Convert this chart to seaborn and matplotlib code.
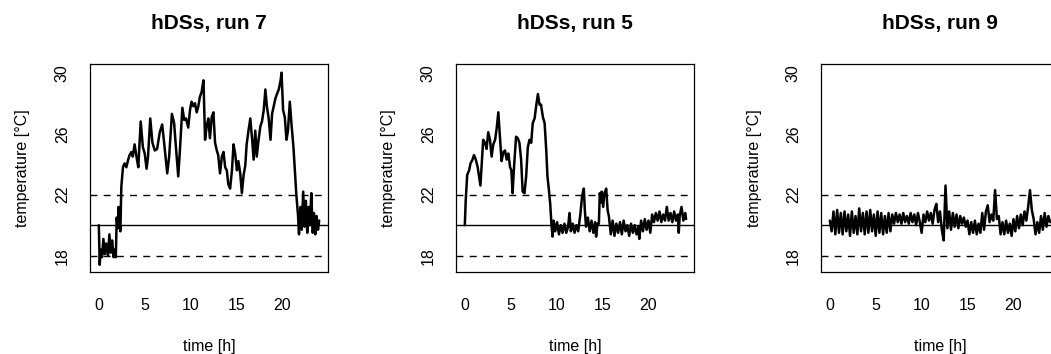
import numpy as np
import pandas as pd
import seaborn as sns
import matplotlib
matplotlib.use("Agg")
import matplotlib.pyplot as plt

# run 7
run7_hours = [0.0, 0.05, 0.1, 0.2, 0.35, 0.5, 0.65, 0.8, 1.0, 1.15,
              1.3, 1.45, 1.6, 1.75, 1.85, 1.95, 2.05, 2.15, 2.25, 2.35,
              2.45, 2.63, 2.8, 3.0, 3.2, 3.35, 3.55, 3.7, 3.9, 4.1,
              4.3, 4.56, 4.8, 5.0, 5.2, 5.36, 5.6, 5.84, 6.1, 6.35,
              6.64, 6.9, 7.08, 7.3, 7.45, 7.66, 7.96, 8.2, 8.4, 8.65,
              8.83, 9.1, 9.3, 9.5, 9.74, 9.93, 10.1, 10.3, 10.47, 10.66,
              10.84, 11.0, 11.2, 11.4, 11.57, 11.75, 11.93, 12.1, 12.3, 12.48,
              12.66, 12.85, 13.0, 13.2, 13.4, 13.58, 13.76, 13.94, 14.1, 14.3,
              14.5, 14.67, 14.85, 15.04, 15.2, 15.4, 15.58, 15.77, 15.95, 16.1,
              16.3, 16.5, 16.7, 16.86, 17.04, 17.2, 17.4, 17.6, 17.77, 17.96,
              18.14, 18.3, 18.5, 18.7, 18.87, 19.05, 19.23, 19.4, 19.6, 19.8,
              19.9, 20.07, 20.25, 20.44, 20.6, 20.8, 21.0, 21.2, 21.35, 21.5,
              21.7, 21.8, 21.97, 22.1, 22.26, 22.4, 22.55, 22.7, 22.85, 23.0,
              23.14, 23.3, 23.43, 23.58, 23.72, 23.87, 24.0]
run7_temp = [20.0, 18.6, 17.4, 18.4, 17.9, 19.1, 18.1, 18.8, 18.0, 19.4,
             18.2, 19.0, 17.9, 18.4, 17.9, 20.5, 19.8, 21.2, 20.3, 19.6,
             22.5, 23.8, 24.05, 23.8, 24.3, 24.6, 24.8, 24.5, 25.3, 24.5,
             23.8, 26.8, 25.1, 24.7, 23.7, 24.5, 27.0, 25.4, 24.9, 25.0,
             26.1, 26.6, 25.6, 24.3, 23.4, 24.5, 27.3, 26.7, 25.1, 23.2,
             24.9, 27.7, 26.9, 27.0, 26.4, 27.55, 28.1, 27.8, 28.0, 27.4,
             27.8, 28.4, 28.75, 29.5, 25.6, 26.5, 27.0, 25.7, 27.1, 27.4,
             25.4, 24.9, 24.6, 23.4, 24.5, 24.8, 23.8, 23.6, 22.7, 22.4,
             23.6, 25.3, 24.7, 23.6, 24.2, 23.4, 22.1, 23.3, 23.9, 25.3,
             26.2, 27.0, 25.6, 24.3, 26.2, 24.5, 25.6, 26.5, 26.8, 27.55,
             28.9, 27.8, 27.0, 25.6, 27.3, 27.8, 28.3, 28.6, 28.9, 29.5,
             30.0, 27.55, 27.1, 25.6, 26.2, 28.1, 26.5, 25.1, 23.6, 22.1,
             20.6, 19.4, 21.2, 19.7, 22.2, 19.9, 21.6, 19.5, 21.2, 20.0,
             22.1, 19.5, 20.8, 19.4, 20.6, 19.7, 20.3]

# run 5
run5_hours = [0.0, 0.1, 0.26, 0.47, 0.62, 0.84, 1.0, 1.2, 1.4, 1.57,
              1.7, 1.82, 2.0, 2.2, 2.37, 2.55, 2.74, 2.92, 3.1, 3.3,
              3.47, 3.65, 3.83, 4.0, 4.2, 4.38, 4.56, 4.74, 4.93, 5.07,
              5.2, 5.36, 5.58, 5.77, 5.95, 6.13, 6.3, 6.5, 6.68, 6.86,
              7.04, 7.23, 7.4, 7.6, 7.77, 7.96, 8.14, 8.3, 8.5, 8.69,
              8.87, 9.0, 9.16, 9.3, 9.45, 9.56, 9.67, 9.85, 10.05, 10.25,
              10.45, 10.65, 10.85, 11.05, 11.25, 11.4, 11.55, 11.75, 11.95, 12.15,
              12.35, 12.5, 12.6, 12.77, 12.96, 13.07, 13.2, 13.4, 13.6, 13.8,
              14.0, 14.2, 14.3, 14.45, 14.6, 14.7, 14.85, 14.9, 15.07, 15.2,
              15.4, 15.55, 15.7, 15.9, 16.1, 16.3, 16.5, 16.7, 16.9, 17.1,
              17.3, 17.5, 17.7, 17.9, 18.1, 18.3, 18.5, 18.7, 18.9, 19.0,
              19.2, 19.4, 19.6, 19.8, 20.0, 20.2, 20.4, 20.6, 20.8, 21.0,
              21.2, 21.4, 21.6, 21.8, 22.0, 22.2, 22.4, 22.6, 22.8, 23.0,
              23.2, 23.3, 23.4, 23.6, 23.8, 24.0, 24.1]
run5_temp = [20.0, 21.65, 23.3, 23.6, 24.05, 24.3, 24.6, 24.3, 23.8, 23.1,
             22.6, 23.8, 25.6, 25.4, 25.0, 26.1, 25.6, 24.5, 25.3, 25.6,
             26.35, 27.4, 25.8, 24.2, 24.8, 24.9, 24.3, 24.7, 23.8, 23.6,
             22.1, 23.8, 25.8, 25.7, 25.4, 24.3, 22.2, 22.1, 23.2, 25.1,
             25.6, 25.4, 26.7, 27.0, 27.8, 28.6, 27.9, 27.9, 27.1, 26.7,
             24.9, 23.2, 22.3, 21.4, 19.9, 19.25, 20.3, 19.6, 20.2, 19.4,
             20.0, 19.5, 20.1, 19.5, 19.9, 20.8, 19.6, 20.1, 19.5, 20.0,
             19.6, 20.3, 20.8, 21.9, 22.4, 21.0, 19.9, 20.5, 19.6, 20.3,
             19.5, 20.2, 19.25, 20.1, 20.1, 22.1, 21.5, 22.2, 21.2, 22.1,
             22.4, 21.0, 20.55, 19.4, 20.3, 19.3, 20.1, 19.5, 20.2, 19.4,
             20.3, 19.6, 20.0, 19.3, 20.1, 19.5, 20.0, 19.4, 19.9, 19.1,
             20.3, 19.6, 20.4, 19.7, 20.3, 19.5, 20.7, 20.2, 20.8, 20.3,
             20.9, 20.2, 20.7, 20.3, 21.2, 20.3, 20.8, 20.2, 20.9, 20.3,
             20.7, 19.5, 20.6, 21.2, 20.3, 20.8, 20.4]

# run 9, one reading every 0.2 h
run9_hours = np.round(np.arange(0, 24.01, 0.2), 1)
run9_temp = [20.3, 19.6, 20.9, 19.4, 21.0, 19.5, 20.8, 19.4, 20.9, 19.6,
             20.7, 19.3, 20.9, 19.5, 20.6, 19.4, 21.1, 19.6, 20.8, 19.4,
             20.9, 19.5, 21.0, 19.6, 20.7, 19.3, 20.9, 19.5, 20.8, 19.4,
             20.6, 19.5, 20.8, 19.6, 20.7, 20.1, 20.8, 20.2, 20.7, 20.1,
             20.8, 20.2, 20.6, 20.1, 20.8, 20.2, 20.7, 20.0, 20.8, 20.2,
             19.5, 20.7, 20.2, 20.9, 20.3, 20.8, 20.1, 21.0, 21.4, 20.2,
             20.9, 19.7, 19.0, 22.6, 19.8, 20.9, 19.7, 20.8, 19.9, 20.7,
             19.8, 20.6, 20.1, 20.5, 19.9, 20.3, 19.4, 20.2, 19.5, 20.3,
             19.4, 20.1, 19.5, 20.8, 19.7, 20.9, 21.3, 20.2, 20.7, 20.3,
             22.3, 20.4, 20.6, 19.4, 20.2, 19.4, 20.3, 19.5, 20.1, 19.3,
             20.4, 19.6, 20.6, 19.8, 20.7, 20.0, 20.9, 20.3, 21.2, 22.3,
             21.0, 20.4, 19.4, 20.2, 19.5, 20.6, 19.7, 20.8, 19.9, 20.6,
             20.2]

titles = ["hDSs, run 7", "hDSs, run 5", "hDSs, run 9"]
target = 20
band = [18, 22]

runs = [(run7_hours, run7_temp), (run5_hours, run5_temp), (run9_hours, run9_temp)]

sns.set_style("white")
plt.rcParams["font.family"] = ["Liberation Sans", "DejaVu Sans"]
plt.rcParams["text.color"] = "black"
plt.rcParams["axes.labelcolor"] = "black"

W, H = 1051, 354
fig = plt.figure(figsize=(W / 100, H / 100), dpi=100)

lefts = [90, 456, 821]
pw, ph = 238, 208
top = 64

for i, (hours, temp) in enumerate(runs):
    ax = fig.add_axes([lefts[i] / W, 1 - (top + ph) / H, pw / W, ph / H])
    df = pd.DataFrame({"time": hours, "temperature": temp})
    sns.lineplot(data=df, x="time", y="temperature", ax=ax, color="black",
                 linewidth=1.8, estimator=None, sort=False)
    ax.axhline(target, color="black", linewidth=1.0)
    for b in band:
        ax.axhline(b, color="black", linewidth=1.0, linestyle=(0, (5, 4.5)))

    ax.set_xlim(-0.96, 24.96)
    ax.set_ylim(16.93, 30.57)
    ax.set_xticks([0, 5, 10, 15, 20])
    ax.set_yticks([18, 20, 22, 24, 26, 28, 30])
    ax.set_yticklabels(["18", "", "22", "", "26", "", "30"])
    ax.tick_params(direction="out", length=6.5, width=0.8, colors="black",
                   labelsize=11.5)
    ax.tick_params(axis="x", pad=12)
    ax.tick_params(axis="y", pad=8, labelrotation=90)
    for lab in ax.get_yticklabels():
        lab.set_va("center")
    for s in ax.spines.values():
        s.set_visible(True)
        s.set_color("black")
        s.set_linewidth(0.9)

    ax.set_title(titles[i], fontsize=15, fontweight="bold", y=1 + 41 / ph,
                 va="center", pad=0, color="black")
    ax.set_xlabel("time [h]", fontsize=11.5, color="black")
    ax.xaxis.set_label_coords(0.5, -74 / ph)
    ax.xaxis.label.set_va("center")
    ax.set_ylabel("temperature [°C]", fontsize=11.5, color="black")
    ax.yaxis.set_label_coords(-67 / pw, 0.5)
    ax.yaxis.label.set_va("center")

fig.savefig("out.png", dpi=100)
